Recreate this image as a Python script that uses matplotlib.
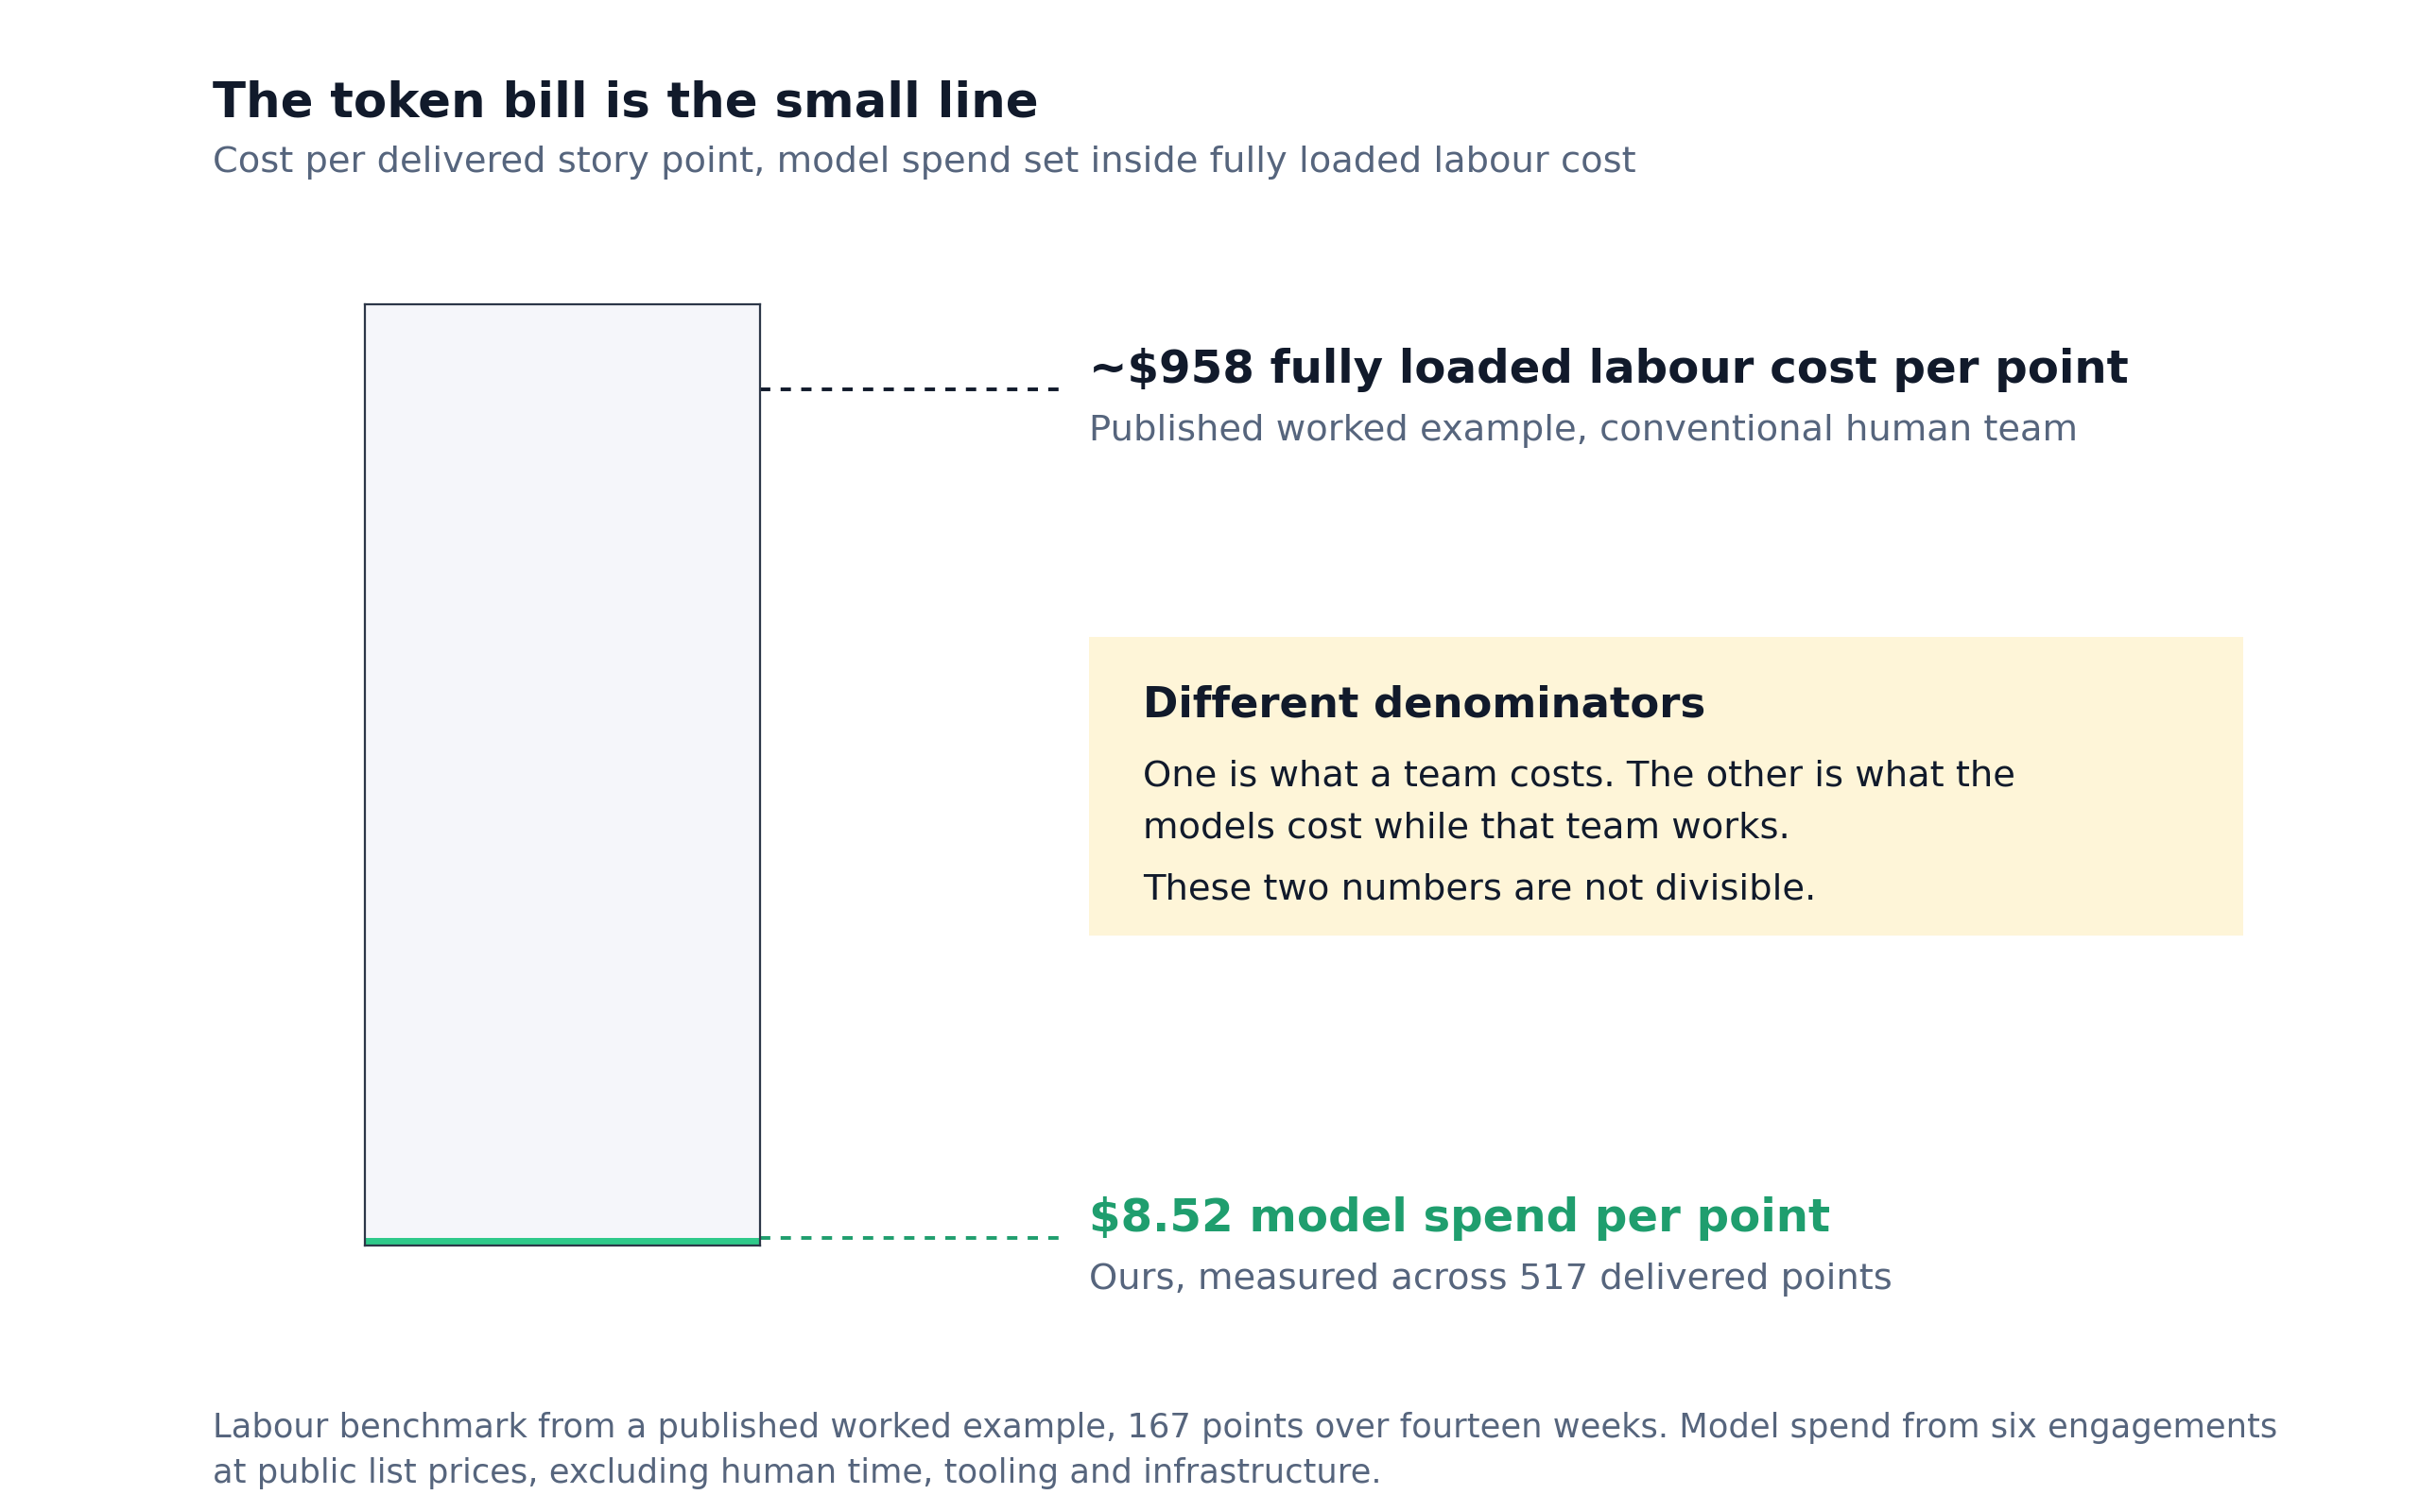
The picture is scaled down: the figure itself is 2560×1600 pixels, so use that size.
import matplotlib.pyplot as plt
from matplotlib.transforms import blended_transform_factory
from matplotlib.patches import Rectangle

labour_cost = 958.0   # fully loaded labour cost per point
model_cost = 8.52     # model spend per point
delivered_points = 517

title = "The token bill is the small line"
subtitle = "Cost per delivered story point, model spend set inside fully loaded labour cost"
labour_label = "~$958 fully loaded labour cost per point"
labour_sub = "Published worked example, conventional human team"
model_label = "$8.52 model spend per point"
model_sub = "Ours, measured across 517 delivered points"
box_head = "Different denominators"
box_lines = ["One is what a team costs. The other is what the",
             "models cost while that team works.",
             "These two numbers are not divisible."]
footnote = ["Labour benchmark from a published worked example, 167 points over fourteen weeks. Model spend from six engagements",
            "at public list prices, excluding human time, tooling and infrastructure."]

dark = "#111a2b"
grey = "#56657d"
green_bar = "#2fc98a"
green_txt = "#1f9e6e"

W, H = 1560.0, 975.0  # layout grid (reference px at display scale)
def fx(x): return x / W
def fy(y): return 1 - y / H

fig = plt.figure(figsize=(12.8, 8), dpi=200)
fig.patch.set_facecolor("white")

# the tall frame is the labour cost, the thin green bar is the model spend
ax = fig.add_axes([fx(235), fy(803), fx(490) - fx(235), fy(196) - fy(803)])
ax.set_facecolor("#f5f6fa")
ax.bar([0], [model_cost], width=1.0, color=green_bar, zorder=2)
ax.set_xlim(-0.5, 0.5)
ax.set_ylim(0, labour_cost * 1.1)
ax.set_xticks([])
ax.set_yticks([])
for s in ax.spines.values():
    s.set_color("#2d3748")
    s.set_linewidth(0.8)

# leader lines from the frame to the labels
tr = blended_transform_factory(fig.transFigure, ax.transData)
ax.plot([fx(490), fx(686)], [labour_cost, labour_cost], transform=tr, clip_on=False,
        color=dark, lw=1.4, linestyle=(0, (2.8, 2.8)))
ax.plot([fx(490), fx(686)], [model_cost, model_cost], transform=tr, clip_on=False,
        color=green_txt, lw=1.4, linestyle=(0, (2.8, 2.8)))

fig.text(fx(137), fy(75), title, fontsize=18.5, fontweight="bold", color=dark)
fig.text(fx(137), fy(111), subtitle, fontsize=13.8, color=grey)

fig.text(fx(702), fy(247), labour_label, fontsize=17.4, fontweight="bold", color=dark)
fig.text(fx(702), fy(284), labour_sub, fontsize=13.85, color=grey)

fig.text(fx(702), fy(794), model_label, fontsize=17.4, fontweight="bold", color=green_txt)
fig.text(fx(702), fy(831), model_sub, fontsize=13.85, color=grey)

# callout box
fig.patches.append(Rectangle((fx(702), fy(603)), fx(1446) - fx(702), fy(411) - fy(603),
                             transform=fig.transFigure, facecolor="#fef5d8", edgecolor="none", zorder=0))
fig.text(fx(737), fy(462), box_head, fontsize=16.2, fontweight="bold", color=dark)
for txt, yb in zip(box_lines, [507, 540, 580]):
    fig.text(fx(737), fy(yb), txt, fontsize=13.85, color=dark)

for txt, yb in zip(footnote, [927, 956]):
    fig.text(fx(137), fy(yb), txt, fontsize=12.7, color=grey)

fig.savefig("out.png", dpi=200)
